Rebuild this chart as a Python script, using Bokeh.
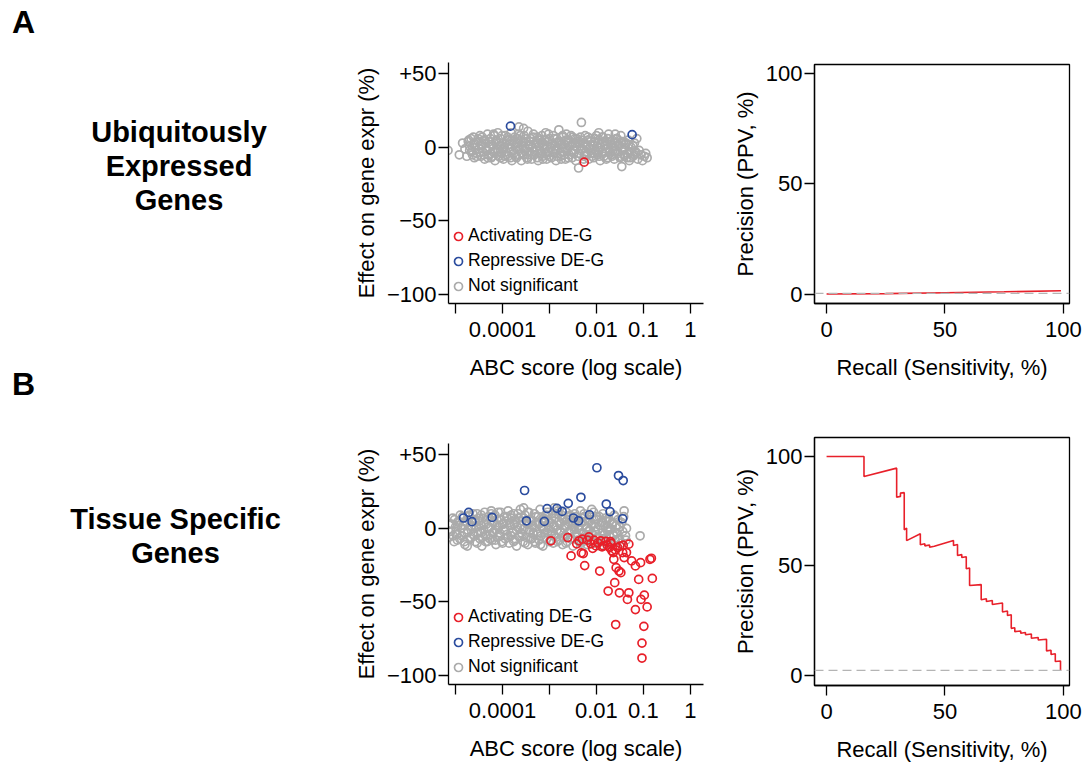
import numpy as np
from bokeh.plotting import figure
from bokeh.layouts import row, column
from bokeh.models import (Range1d, FixedTicker, CustomJSTickFormatter, Legend,
                          LegendItem, Span)
from bokeh.core.properties import value
from bokeh.embed import file_html
from bokeh.resources import INLINE

FONT = "Liberation Sans"
RED = "#E8202A"
BLUE = "#2B4C9E"
GRAY = "#ABABAB"
DASH_GRAY = "#B4B4B4"

# ---------------- A: ubiquitously expressed genes ----------------
# x values are log10(ABC score), y values are effect on gene expression (%)
ubiq_ns_log_abc = [
    -5.16, -4.92, -4.85, -4.80, -4.76, -4.72, -4.70, -4.66, -4.62, -4.60,
    -4.57, -4.55, -4.52, -4.50, -4.48, -4.46, -4.44, -4.42, -4.40, -4.38,
    -4.36, -4.34, -4.32, -4.30, -4.28, -4.26, -4.24, -4.22, -4.20, -4.18,
    -4.16, -4.14, -4.12, -4.10, -4.08, -4.06, -4.04, -4.02, -4.00, -3.98,
    -3.96, -3.94, -3.92, -3.90, -3.88, -3.86, -3.84, -3.82, -3.80, -3.78,
    -3.76, -3.74, -3.72, -3.70, -3.68, -3.66, -3.64, -3.62, -3.60, -3.58,
    -3.56, -3.54, -3.52, -3.50, -3.48, -3.46, -3.44, -3.42, -3.40, -3.38,
    -3.36, -3.34, -3.32, -3.30, -3.28, -3.26, -3.24, -3.22, -3.20, -3.18,
    -3.16, -3.14, -3.12, -3.10, -3.08, -3.06, -3.04, -3.02, -3.00, -2.98,
    -2.96, -2.94, -2.92, -2.90, -2.88, -2.86, -2.84, -2.82, -2.80, -2.78,
    -2.76, -2.74, -2.72, -2.70, -2.68, -2.66, -2.64, -2.62, -2.60, -2.58,
    -2.56, -2.54, -2.52, -2.50, -2.48, -2.46, -2.44, -2.42, -2.40, -2.38,
    -2.36, -2.34, -2.32, -2.30, -2.28, -2.26, -2.24, -2.22, -2.20, -2.18,
    -2.16, -2.14, -2.12, -2.10, -2.08, -2.06, -2.04, -2.02, -2.00, -1.98,
    -1.96, -1.94, -1.92, -1.90, -1.88, -1.86, -1.84, -1.82, -1.80, -1.78,
    -1.76, -1.74, -1.72, -1.70, -1.68, -1.66, -1.64, -1.62, -1.60, -1.58,
    -1.56, -1.54, -1.52, -1.50, -1.48, -1.46, -1.44, -1.42, -1.40, -1.38,
    -1.35, -1.32, -1.29, -1.26, -1.22, -1.19, -1.16, -1.12, -1.09, -1.05,
    -1.02, -0.98, -0.95, -0.92, -1.14, -1.30, -1.60, -1.95, -3.65, -3.55,
    -4.25, -4.05, -3.85, -3.65, -3.45, -3.25, -3.05, -2.85, -2.65, -2.45,
    -2.25, -2.05, -1.85, -1.65, -1.45, -3.95, -3.55, -3.15, -2.75, -2.35,
    -4.73, -4.70, -4.67, -4.64, -4.61, -4.58, -4.55, -4.52, -4.49, -4.46,
    -4.43, -4.40, -4.37, -4.34, -4.31, -4.28, -4.25, -4.22, -4.19, -4.16,
    -4.13, -4.10, -4.07, -4.04, -4.01, -3.98, -3.95, -3.92, -3.89, -3.86,
    -3.83, -3.80, -3.77, -3.74, -3.71, -3.68, -3.65, -3.62, -3.59, -3.56,
    -3.53, -3.50, -3.47, -3.44, -3.41, -3.38, -3.35, -3.32, -3.29, -3.26,
    -3.23, -3.20, -3.17, -3.14, -3.11, -3.08, -3.05, -3.02, -2.99, -2.96,
    -2.93, -2.90, -2.87, -2.84, -2.81, -2.78, -2.75, -2.72, -2.69, -2.66,
    -2.63, -2.60, -2.57, -2.54, -2.51, -2.48, -2.45, -2.42, -2.39, -2.36,
    -2.33, -2.30, -2.27, -2.24, -2.21, -2.18, -2.15, -2.12, -2.09, -2.06,
    -2.03, -2.00, -1.97, -1.94, -1.91, -1.88, -1.85, -1.82, -1.79, -1.76,
    -1.73, -1.70, -1.67, -1.64, -1.61, -1.58, -1.55, -1.52, -1.49, -1.46,
    -1.43, -1.40, -1.37, -1.34, -1.31, -1.28, -1.25, -1.22, -1.19, -1.16,
]
ubiq_ns_effect = [
    -2, -5, 3, -1, -6, 5, 1, -3, 7, -7,
    2, -4, 4, -1, 8, -6, 1, -3, 5, -8,
    3, -2, 9, -5, 0, 6, -7, 2, -3, 8,
    -9, 4, -1, 10, -6, 1, 6, -4, 3, -8,
    0, 8, -3, 5, -6, 2, -1, 10, -9, 4,
    -4, 7, 0, -7, 3, 9, -2, 5, -9, 1,
    -5, 8, -1, 4, -7, 11, 2, -3, 6, -8,
    0, 9, -5, 3, -2, 7, -9, 1, 5, -4,
    8, -6, 2, -1, 10, -8, 4, -3, 6, 0,
    -7, 3, 8, -4, 1, -9, 6, -2, 12, 4,
    -6, 0, 7, -3, 2, -8, 9, -1, 5, -5,
    1, 8, -7, 3, -2, 6, -9, 0, 4, -14,
    -4, 7, 17, -1, 3, -6, 8, -3, 1, 5,
    -8, -1, 6, -4, 2, -7, 4, -2, 8, -5,
    0, 5, -9, 3, -3, 7, -6, 1, -1, 4,
    -7, 9, -3, 2, -5, 5, 0, -8, 3, -2,
    6, -4, 1, -7, 8, -13, -2, 4, -5, 2,
    -7, 5, -3, 0, -6, 3, -4, -8, -2, -5,
    -9, -6, -4, -7, 6, -9, 9, 10, 14, 13,
    -4, -3, 5, -5, -5, 3, -5, 3, 5, 3,
    -4, -4, 4, -2, 0, -6, 4, 1, -8, 1,
    4, -2, 6, -5, 3, 0, -6, 6, -3, 2,
    7, -5, 5, -1, -7, 4, 2, -6, 9, -2,
    5, -3, 3, -7, 8, -1, 2, -5, 7, 0,
    -7, 5, -2, 3, -6, 6, -1, 8, -4, 3,
    -2, 6, -8, 1, 4, -5, 7, -3, 0, -7,
    6, -2, 3, -8, 5, -4, 1, 9, -6, 2,
    -3, 6, -1, -6, 4, -4, 2, 8, -5, -1,
    4, -7, 3, -3, 7, -4, 1, 6, -6, 3,
    -2, 5, -8, 2, -5, 7, -1, 4, -6, 1,
    6, -3, 3, -6, 0, 7, -4, 2, -8, 6,
    -2, 4, -6, 1, -4, 6, -3, 2, -6, 4,
    -1, -6, 3, -4, 2, -7, -3, 1, -5, -3,
]
ubiq_act_log_abc = [-2.26]
ubiq_act_effect = [-10.0]
ubiq_rep_log_abc = [-3.83, -1.24]
ubiq_rep_effect = [14.5, 8.7]

ubiq_recall = [0, 25, 50, 75, 99]
ubiq_precision = [0.0, 0.2, 0.6, 1.0, 1.5]
ubiq_baseline = 0.3

# ---------------- B: tissue specific genes ----------------
tissue_ns_log_abc = [
    -5.14, -5.12, -5.10, -5.06, -5.03, -5.00, -4.97, -4.94, -4.91, -4.88,
    -4.85, -4.82, -4.80, -4.77, -4.74, -4.71, -4.68, -4.66, -4.63, -4.60,
    -4.58, -4.56, -4.54, -4.52, -4.50, -4.48, -4.46, -4.44, -4.42, -4.40,
    -4.38, -4.36, -4.34, -4.32, -4.30, -4.28, -4.26, -4.24, -4.22, -4.20,
    -4.18, -4.16, -4.14, -4.12, -4.10, -4.08, -4.06, -4.04, -4.02, -4.00,
    -3.98, -3.96, -3.94, -3.92, -3.90, -3.88, -3.86, -3.84, -3.82, -3.80,
    -3.78, -3.76, -3.74, -3.72, -3.70, -3.68, -3.66, -3.64, -3.62, -3.60,
    -3.58, -3.56, -3.54, -3.52, -3.50, -3.48, -3.46, -3.44, -3.42, -3.40,
    -3.38, -3.36, -3.34, -3.32, -3.30, -3.28, -3.26, -3.24, -3.22, -3.20,
    -3.18, -3.16, -3.14, -3.12, -3.10, -3.08, -3.06, -3.04, -3.02, -3.00,
    -2.98, -2.96, -2.94, -2.92, -2.90, -2.88, -2.86, -2.84, -2.82, -2.80,
    -2.78, -2.76, -2.74, -2.72, -2.70, -2.68, -2.66, -2.64, -2.62, -2.60,
    -2.58, -2.56, -2.54, -2.52, -2.50, -2.48, -2.46, -2.44, -2.42, -2.40,
    -2.38, -2.36, -2.34, -2.32, -2.30, -2.28, -2.26, -2.24, -2.22, -2.20,
    -2.18, -2.16, -2.14, -2.12, -2.10, -2.08, -2.06, -2.04, -2.02, -2.00,
    -1.98, -1.96, -1.94, -1.92, -1.90, -1.88, -1.86, -1.84, -1.82, -1.80,
    -1.78, -1.76, -1.74, -1.72, -1.70, -1.68, -1.66, -1.64, -1.62, -1.60,
    -1.58, -1.56, -1.54, -1.52, -1.50, -1.48, -1.46, -1.44, -1.41, -1.38,
    -1.36, -1.37, -1.07, -1.42, -4.75, -3.55, -2.90, -2.10, -4.45, -3.75,
    -3.35, -2.95, -2.55, -2.15, -1.75, -4.15, -4.95, -3.15, -2.65, -2.25,
    -5.08, -5.05, -5.02, -4.99, -4.96, -4.93, -4.90, -4.87, -4.84, -4.81,
    -4.78, -4.75, -4.72, -4.69, -4.66, -4.63, -4.60, -4.57, -4.54, -4.51,
    -4.48, -4.45, -4.42, -4.39, -4.36, -4.33, -4.30, -4.27, -4.24, -4.21,
    -4.18, -4.15, -4.12, -4.09, -4.06, -4.03, -4.00, -3.97, -3.94, -3.91,
    -3.88, -3.85, -3.82, -3.79, -3.76, -3.73, -3.70, -3.67, -3.64, -3.61,
    -3.58, -3.55, -3.52, -3.49, -3.46, -3.43, -3.40, -3.37, -3.34, -3.31,
    -3.28, -3.25, -3.22, -3.19, -3.16, -3.13, -3.10, -3.07, -3.04, -3.01,
    -2.98, -2.95, -2.92, -2.89, -2.86, -2.83, -2.80, -2.77, -2.74, -2.71,
    -2.68, -2.65, -2.62, -2.59, -2.56, -2.53, -2.50, -2.47, -2.44, -2.41,
    -2.38, -2.35, -2.32, -2.29, -2.26, -2.23, -2.20, -2.17, -2.14, -2.11,
    -2.08, -2.05, -2.02, -1.99, -1.96, -1.93, -1.90, -1.87, -1.84, -1.81,
    -1.78, -1.75, -1.72, -1.69, -1.66, -1.63, -1.60, -1.57, -1.54, -1.51,
]
tissue_ns_effect = [
    -6, 3, -2, 7, -9, 1, -4, 5, -7, 0,
    8, -3, -11, 4, -1, 9, -6, 2, -4, 6,
    -9, 1, 10, -3, 5, -7, 2, -12, 7, -1,
    11, -5, 3, -9, 8, 0, -4, 12, -8, 4,
    -2, 9, -11, 6, -6, 1, -3, 11, -9, 3,
    -1, 8, -7, 5, -4, 12, -10, 2, -5, 7,
    -2, 10, -8, 4, -12, 1, 7, -5, 13, -3,
    5, -9, 0, 9, -6, 3, -11, 11, -1, 6,
    -7, 2, -4, 10, -10, 4, -2, 8, -8, 13,
    -5, 1, -12, 7, -3, 5, -7, 11, 0, -9,
    4, -4, 10, -10, 2, 7, -6, -1, 12, -8,
    3, -3, 9, -11, 6, 0, -5, 11, -9, 3,
    -2, 8, -7, 5, -12, 1, 10, -4, 6, -8,
    2, -1, 12, -10, 4, -3, 8, -6, 0, -11,
    6, -2, 9, -8, 3, -4, 11, -10, 1, 6,
    -6, -1, 8, -12, 4, -3, 10, -7, 2, -9,
    5, -2, 7, -5, 0, -11, 4, -4, 9, -8,
    2, -3, 6, -7, 1, -10, 4, -2, 12, -5,
    0, -8, -5, 8, -12, 14, 14, 13, -3, 3,
    -3, -2, -1, -1, -1, -1, 2, 4, 2, -7,
    3, -5, 6, -2, -8, 4, 9, -5, 2, -9,
    5, -3, 8, -7, 1, 10, -5, 4, -10, 7,
    -2, 9, -6, 3, -9, 6, 1, -7, 10, -3,
    5, -8, 2, 11, -5, 6, -10, 3, -1, 8,
    -6, 4, 9, -3, -9, 6, -1, 10, -6, 2,
    -4, 7, -10, 4, 11, -2, -7, 5, 1, -9,
    8, -4, 3, -11, 6, 0, -6, 9, -3, 4,
    -8, 7, 1, -5, 10, -9, 5, -2, 7, -6,
    2, -10, 6, -3, 9, -7, 3, -1, 8, -5,
    4, -9, 7, -4, 10, -8, 1, 5, -6, 3,
    -10, 6, -2, 8, -6, 2, -9, 5, -4, 7,
    -7, 1, 5, -10, 3, -5, 8, -3, -8, 1,
]
tissue_act_log_abc = [
    -2.97, -2.61, -2.54, -2.37, -2.30, -2.28, -2.25, -2.19, -2.16, -2.05,
    -2.01, -1.93, -1.91, -1.85, -1.77, -1.75, -1.72, -1.67, -1.64, -1.63,
    -1.61, -1.59, -1.58, -1.55, -1.52, -1.51, -1.48, -1.43, -1.41, -1.36,
    -1.34, -1.31, -1.31, -1.25, -1.17, -1.17, -1.10, -1.06, -1.05, -1.03,
    -1.03, -0.99, -0.98, -0.92, -0.86, -0.83, -0.81, -2.12, -1.97, -1.88,
    -1.80, -1.69, -1.60, -1.50, -1.44, -2.42, -2.08, -2.32, -1.70,
]
tissue_act_effect = [
    -8.4, -6.2, -18.7, -8.4, -7.3, -17.1, -25.3, -8.0, -5.7, -8.0,
    -11.9, -29.0, -8.4, -11.9, -11.4, -42.6, -13.0, -15.3, -16.4, -21.0,
    -36.9, -65.4, -26.7, -13.0, -29.0, -43.8, -30.1, -11.4, -19.8, -16.4,
    -48.3, -10.7, -43.8, -22.1, -25.5, -55.2, -34.7, -23.3, -48.3, -88.2,
    -78.0, -66.6, -45.4, -53.4, -21.0, -20.3, -34.0, -10.5, -9.8, -12.5,
    -8.8, -10.2, -14.5, -12.0, -16.5, -10.5, -13.5, -16.6, -9.0,
]
tissue_rep_log_abc = [
    -4.83, -4.72, -4.65, -4.22, -3.53, -3.49, -3.11, -3.05, -2.84, -2.73,
    -2.60, -2.49, -2.38, -2.33, -2.15, -1.99, -1.79, -1.71, -1.53, -1.43,
    -1.44,
]
tissue_rep_effect = [
    7.1, 10.9, 4.6, 7.5, 25.8, 5.2, 4.8, 13.5, 13.7, 11.6,
    17.1, 7.1, 5.2, 21.2, 9.3, 41.3, 16.6, 11.4, 36.0, 32.6,
    6.6,
]

tissue_recall = [
    0, 15.8, 15.8, 29.6, 29.6, 31.2, 31.2, 32.8, 32.8, 33.8,
    33.8, 39.6, 39.6, 41.5, 41.5, 43.5, 43.5, 45.5, 53.6, 53.6,
    55.3, 55.3, 57.1, 57.1, 59.0, 59.0, 60.4, 60.4, 65.3, 65.3,
    67.5, 67.5, 70.0, 70.0, 74.3, 74.3, 76.4, 76.4, 78.0, 78.0,
    79.5, 79.5, 82.0, 82.0, 84.0, 84.0, 86.5, 86.5, 89.4, 89.4,
    92.9, 92.9, 94.8, 94.8, 96.6, 96.6, 98.8, 98.8,
]
tissue_precision = [
    100, 100, 90.9, 94.7, 81.4, 81.8, 83.3, 83.5, 66.5, 67.3,
    61.6, 64.7, 59.7, 60.2, 59.2, 59.6, 58.6, 59.0, 61.6, 59.4,
    59.8, 54.8, 55.2, 53.9, 54.2, 48.7, 49.1, 41.1, 41.5, 34.6,
    35.0, 33.8, 34.2, 32.4, 33.1, 29.0, 29.4, 27.4, 27.7, 21.5,
    21.8, 20.0, 20.3, 19.3, 19.6, 18.6, 18.9, 17.0, 17.3, 16.2,
    16.5, 11.2, 11.5, 9.6, 9.9, 6.4, 6.6, 2.3,
]
tissue_baseline = 2.3

abc_ticks = [1e-5, 1e-4, 1e-3, 1e-2, 1e-1, 1]
effect_ticks = [-100, -50, 0, 50]
pct_ticks = [0, 50, 100]
legend_labels = ["Activating DE-G", "Repressive DE-G", "Not significant"]

LOG_FMT = """
const e = Math.round(Math.log10(tick));
const lab = {"-4": "0.0001", "-2": "0.01", "-1": "0.1", "0": "1"};
const s = lab[String(e)];
return s === undefined ? "" : s;
"""
SIGNED_FMT = """
if (tick > 0) return "+" + tick;
if (tick < 0) return "\\u2212" + Math.abs(tick);
return "0";
"""


def style_axis(ax, ticks, code=None, label_standoff=2, title_standoff=4):
    ax.ticker = FixedTicker(ticks=ticks)
    if code is not None:
        ax.formatter = CustomJSTickFormatter(code=code)
    ax.major_tick_out = 10
    ax.major_tick_in = 0
    ax.minor_tick_out = 0
    ax.minor_tick_in = 0
    ax.axis_line_color = "black"
    ax.axis_line_width = 1.3
    ax.major_tick_line_color = "black"
    ax.major_tick_line_width = 1.3
    ax.major_label_text_font = FONT
    ax.major_label_text_font_size = "22px"
    ax.major_label_text_color = "black"
    ax.major_label_standoff = label_standoff
    ax.axis_label_text_font = FONT
    ax.axis_label_text_font_size = "22px"
    ax.axis_label_text_font_style = "normal"
    ax.axis_label_text_color = "black"
    ax.axis_label_standoff = title_standoff


def effect_panel(height, border_top, border_bottom, ns, act, rep):
    p = figure(width=385, height=height, x_axis_type="log",
               x_range=Range1d(10 ** -5.15, 10 ** 0.28),
               y_range=Range1d(-106.2, 57.8),
               min_border_left=108, min_border_right=22,
               min_border_top=border_top, min_border_bottom=border_bottom,
               output_backend="svg", toolbar_location=None)
    p.outline_line_color = None
    p.xgrid.visible = False
    p.ygrid.visible = False
    p.background_fill_color = None
    p.border_fill_color = None

    renderers = {}
    for key, (lx, ey), col in (("ns", ns, GRAY), ("act", act, RED), ("rep", rep, BLUE)):
        renderers[key] = p.scatter(10 ** np.asarray(lx, dtype=float), ey,
                                   marker="circle", size=8, fill_color=None,
                                   line_color=col, line_width=1.7)

    style_axis(p.xaxis[0], abc_ticks, LOG_FMT, label_standoff=8, title_standoff=15)
    style_axis(p.yaxis[0], effect_ticks, SIGNED_FMT, label_standoff=2, title_standoff=5)
    p.xaxis.axis_label = "ABC score (log scale)"
    p.yaxis.axis_label = "Effect on gene expr (%)"

    legend = Legend(items=[
        LegendItem(label=legend_labels[0], renderers=[renderers["act"]]),
        LegendItem(label=legend_labels[1], renderers=[renderers["rep"]]),
        LegendItem(label=legend_labels[2], renderers=[renderers["ns"]]),
    ], location=(0, 7))
    legend.glyph_width = 20
    legend.glyph_height = 20
    legend.label_standoff = 0
    legend.spacing = 4
    legend.padding = 0
    legend.margin = 0
    legend.border_line_color = None
    legend.background_fill_alpha = 0
    legend.label_text_font = FONT
    legend.label_text_font_size = "17.5px"
    legend.label_text_color = "black"
    p.add_layout(legend)
    return p


def pr_panel(height, border_top, border_bottom, y_range, recall, precision, baseline):
    p = figure(width=361, height=height,
               x_range=Range1d(-5.1, 102.6), y_range=Range1d(*y_range),
               min_border_left=89, min_border_right=17,
               min_border_top=border_top, min_border_bottom=border_bottom,
               output_backend="svg", toolbar_location=None)
    p.outline_line_color = "black"
    p.outline_line_width = 1.3
    p.xgrid.visible = False
    p.ygrid.visible = False
    p.background_fill_color = None
    p.border_fill_color = None
    p.line(recall, precision, line_color=RED, line_width=1.6)
    p.add_layout(Span(location=baseline, dimension="width", line_color=DASH_GRAY,
                      line_dash="9 5", line_width=1.4))
    style_axis(p.xaxis[0], pct_ticks, label_standoff=8, title_standoff=15)
    style_axis(p.yaxis[0], pct_ticks, label_standoff=2, title_standoff=5)
    p.xaxis.axis_label = "Recall (Sensitivity, %)"
    p.yaxis.axis_label = "Precision (PPV, %)"
    return p


# Row titles and panel letters
labels = figure(width=340, height=765, x_range=Range1d(0, 340), y_range=Range1d(765, 0),
                x_axis_location=None, y_axis_location=None, min_border=0,
                output_backend="svg", toolbar_location=None)
labels.grid.visible = False
labels.outline_line_color = None
labels.background_fill_color = None
labels.border_fill_color = None
labels.text(x=[23, 23], y=[21, 383], text=["A", "B"], text_font=value(FONT),
            text_font_size="32px", text_font_style="bold", text_align="center",
            text_baseline="middle", text_color="black")
labels.text(x=[178.5, 178.5, 178.5], y=[131, 165, 199],
            text=["Ubiquitously", "Expressed", "Genes"], text_font=value(FONT),
            text_font_size="29px", text_font_style="bold", text_align="center",
            text_baseline="middle", text_color="black")
labels.text(x=[175, 175], y=[518, 552], text=["Tissue Specific", "Genes"],
            text_font=value(FONT), text_font_size="29px", text_font_style="bold",
            text_align="center", text_baseline="middle", text_color="black")

ubiq_scatter = effect_panel(403, 62, 100,
                            (ubiq_ns_log_abc, ubiq_ns_effect),
                            (ubiq_act_log_abc, ubiq_act_effect),
                            (ubiq_rep_log_abc, ubiq_rep_effect))
tissue_scatter = effect_panel(362, 40, 81,
                              (tissue_ns_log_abc, tissue_ns_effect),
                              (tissue_act_log_abc, tissue_act_effect),
                              (tissue_rep_log_abc, tissue_rep_effect))
ubiq_pr = pr_panel(403, 64, 100, (-4.3, 104.1), ubiq_recall, ubiq_precision, ubiq_baseline)
tissue_pr = pr_panel(362, 34, 80, (-4.6, 108.7), tissue_recall, tissue_precision, tissue_baseline)

page = row(labels, column(ubiq_scatter, tissue_scatter), column(ubiq_pr, tissue_pr))

with open("out.html", "w", encoding="utf-8") as f:
    f.write(file_html(page, INLINE, title="ABC score and gene expression"))
